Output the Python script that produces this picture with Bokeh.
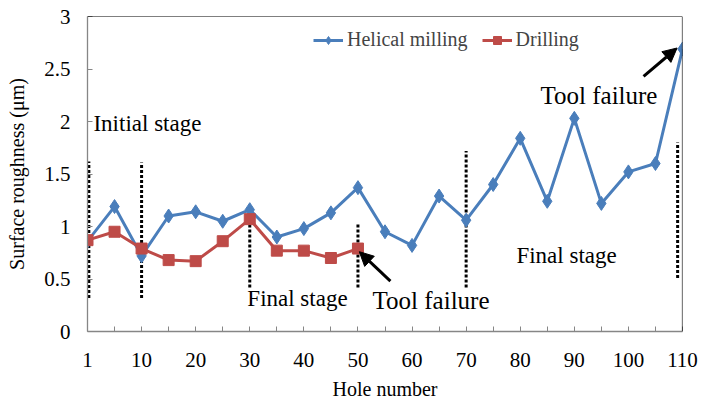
from bokeh.plotting import figure
from bokeh.models import (Range1d, FixedTicker, Span, Label, Legend, LegendItem,
                          Arrow, NormalHead)
from bokeh.embed import file_html
from bokeh.resources import INLINE

# ---- data ----
holes = [1, 5, 10, 15, 20, 25, 30, 35, 40, 45, 50, 55, 60, 65, 70, 75, 80, 85, 90, 95, 100, 105, 110]
helical = [0.86, 1.19, 0.72, 1.10, 1.14, 1.05, 1.16, 0.90, 0.98, 1.13, 1.37, 0.95, 0.82, 1.29,
           1.06, 1.40, 1.84, 1.24, 2.03, 1.22, 1.52, 1.60, 2.69]
drill_holes = [1, 5, 10, 15, 20, 25, 30, 35, 40, 45, 50]
drilling = [0.87, 0.95, 0.79, 0.68, 0.67, 0.86, 1.07, 0.77, 0.77, 0.70, 0.79]
x_tick_labels = ["1", "10", "20", "30", "40", "50", "60", "70", "80", "90", "100", "110"]
y_ticks = [0, 0.5, 1, 1.5, 2, 2.5, 3]
y_tick_labels = ["0", "0.5", "1", "1.5", "2", "2.5", "3"]

# stage separators (hole position, top, bottom)
sep_pos = [0.05, 2, 6, 10, 14, 21.82]
sep_top = [1.62, 1.61, 1.07, 1.02, 1.72, 1.80]
sep_bot = [0.32, 0.32, 0.42, 0.42, 0.42, 0.51]

FONT = "Liberation Serif"
BLUE = "#4A7EBB"
RED = "#BE4B48"
GRAY = "#868686"

idx = {h: i for i, h in enumerate(holes)}
hx = [idx[h] for h in holes]
dx = [idx[h] for h in drill_holes]

p = figure(width=702, height=403, output_backend="svg", toolbar_location=None,
           x_range=Range1d(0, len(holes) - 1), y_range=Range1d(0, 3),
           min_border_left=87, min_border_right=20, min_border_top=16, min_border_bottom=72)
p.xgrid.visible = False
p.ygrid.visible = False
p.outline_line_color = None
p.background_fill_color = "white"
p.border_fill_color = "white"

# axes
p.xaxis.ticker = FixedTicker(ticks=list(range(len(holes))))
ov = {}
for i in range(len(holes)):
    ov[i] = x_tick_labels[i // 2] if i % 2 == 0 else ""
p.xaxis.major_label_overrides = ov
p.yaxis.ticker = FixedTicker(ticks=y_ticks)
p.yaxis.major_label_overrides = {t: l for t, l in zip(y_ticks, y_tick_labels)}
for ax in (p.xaxis[0], p.yaxis[0]):
    ax.axis_line_color = GRAY
    ax.axis_line_width = 1.3
    ax.major_tick_line_color = GRAY
    ax.major_tick_in = 5
    ax.major_tick_out = 0
    ax.minor_tick_line_color = None
    ax.major_label_text_font = FONT
    ax.major_label_text_font_size = "21px"
    ax.major_label_text_color = "black"
    ax.axis_label_text_font = FONT
    ax.axis_label_text_font_size = "20px"
    ax.axis_label_text_font_style = "normal"
    ax.axis_label_text_color = "black"
p.xaxis.major_label_standoff = 21
p.yaxis.major_label_standoff = 17
p.xaxis.axis_label = "Hole number"
p.xaxis.axis_label_standoff = 8
p.yaxis.axis_label = "Surface roughness (\u03bcm)"
p.yaxis.axis_label_standoff = 13

# top / right border
p.add_layout(Span(location=3, dimension="width", line_color="black", line_width=1.2))
p.add_layout(Span(location=len(holes) - 1, dimension="height", line_color="black", line_width=1.2))

# stage separators
p.segment(x0=sep_pos, y0=sep_bot, x1=sep_pos, y1=sep_top, line_color="black",
          line_width=3, line_dash="3 2")

# series
hl = p.line(hx, helical, line_color=BLUE, line_width=3)
hm = p.scatter(hx, helical, marker="diamond", size=14, fill_color=BLUE, line_color=BLUE)
dl = p.line(dx, drilling, line_color=RED, line_width=3)
dm = p.scatter(dx, drilling, marker="square", size=11, fill_color=RED, line_color=RED)

legend = Legend(items=[LegendItem(label="Helical milling", renderers=[hl, hm]),
                       LegendItem(label="Drilling", renderers=[dl, dm])],
                orientation="horizontal", location=(226, 280),
                label_text_font=FONT, label_text_font_size="20px",
                glyph_width=30, glyph_height=20, label_standoff=4, spacing=14,
                padding=0, margin=0, border_line_color=None, background_fill_alpha=0)
p.add_layout(legend)

# annotations
def lab(x, y, t, size):
    p.add_layout(Label(x=x, y=y, text=t, text_font=FONT, text_font_size=size,
                       text_baseline="middle", text_color="black"))

lab(0.22, 1.98, "Initial stage", "23px")
lab(5.91, 0.31, "Final stage", "23px")
lab(10.54, 0.30, "Tool failure", "25px")
lab(15.86, 0.72, "Final stage", "23px")
lab(16.75, 2.25, "Tool failure", "25px")

for (x0, y0, x1, y1) in [(11.20, 0.48, 10.05, 0.76), (20.56, 2.43, 21.80, 2.70)]:
    p.add_layout(Arrow(x_start=x0, y_start=y0, x_end=x1, y_end=y1, line_width=3,
                       line_color="black",
                       end=NormalHead(size=14, fill_color="black", line_color="black")))

open("out.html", "w").write(file_html(p, INLINE))
